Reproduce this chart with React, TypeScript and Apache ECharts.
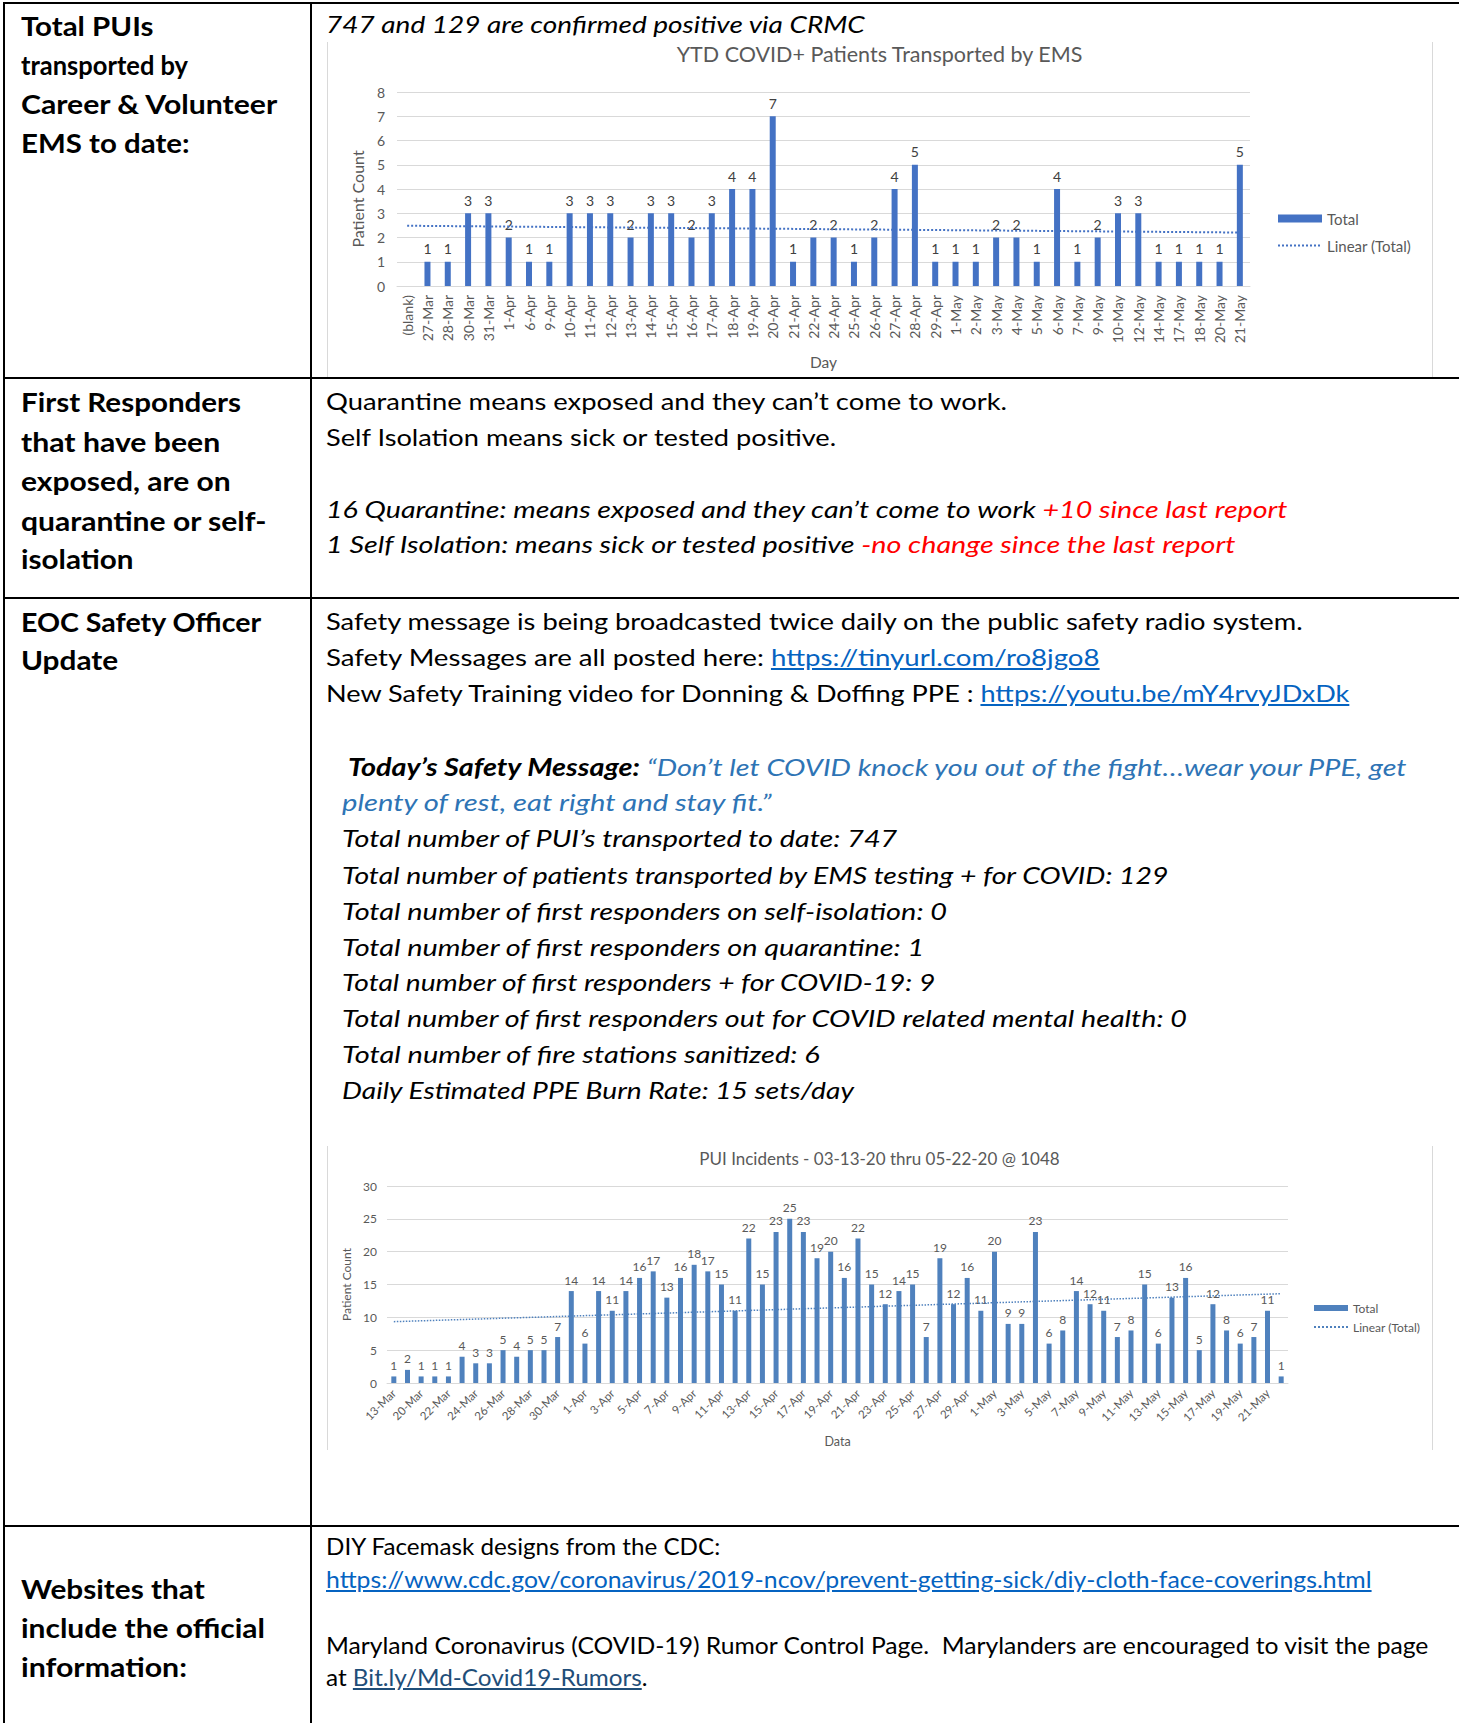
import React, { useEffect, useLayoutEffect, useRef } from 'react';
import * as echarts from 'echarts';

// ---------- Chart 1 data: YTD COVID+ Patients Transported by EMS ----------
const ytdDays = [
  '(blank)', '27-Mar', '28-Mar', '30-Mar', '31-Mar', '1-Apr', '6-Apr', '9-Apr', '10-Apr', '11-Apr',
  '12-Apr', '13-Apr', '14-Apr', '15-Apr', '16-Apr', '17-Apr', '18-Apr', '19-Apr', '20-Apr', '21-Apr',
  '22-Apr', '24-Apr', '25-Apr', '26-Apr', '27-Apr', '28-Apr', '29-Apr', '1-May', '2-May', '3-May',
  '4-May', '5-May', '6-May', '7-May', '9-May', '10-May', '12-May', '14-May', '17-May', '18-May',
  '20-May', '21-May',
];
const ytdTotals: (number | null)[] = [
  null, 1, 1, 3, 3, 2, 1, 1, 3, 3,
  3, 2, 3, 3, 2, 3, 4, 4, 7, 1,
  2, 2, 1, 2, 4, 5, 1, 1, 1, 2,
  2, 1, 4, 1, 2, 3, 3, 1, 1, 1,
  1, 5,
];
const ytdTicks = [0, 1, 2, 3, 4, 5, 6, 7, 8];

// ---------- Chart 2 data: PUI Incidents ----------
const puiDates = [
  '13-Mar', '18-Mar', '20-Mar', '21-Mar', '22-Mar', '23-Mar', '24-Mar', '25-Mar', '26-Mar', '27-Mar',
  '28-Mar', '29-Mar', '30-Mar', '31-Mar', '1-Apr', '2-Apr', '3-Apr', '4-Apr', '5-Apr', '6-Apr',
  '7-Apr', '8-Apr', '9-Apr', '10-Apr', '11-Apr', '12-Apr', '13-Apr', '14-Apr', '15-Apr', '16-Apr',
  '17-Apr', '18-Apr', '19-Apr', '20-Apr', '21-Apr', '22-Apr', '23-Apr', '24-Apr', '25-Apr', '26-Apr',
  '27-Apr', '28-Apr', '29-Apr', '30-Apr', '1-May', '2-May', '3-May', '4-May', '5-May', '6-May',
  '7-May', '8-May', '9-May', '10-May', '11-May', '12-May', '13-May', '14-May', '15-May', '16-May',
  '17-May', '18-May', '19-May', '20-May', '21-May', '22-May',
];
const puiCounts = [
  1, 2, 1, 1, 1, 4, 3, 3, 5, 4,
  5, 5, 7, 14, 6, 14, 11, 14, 16, 17,
  13, 16, 18, 17, 15, 11, 22, 15, 23, 25,
  23, 19, 20, 16, 22, 15, 12, 14, 15, 7,
  19, 12, 16, 11, 20, 9, 9, 23, 6, 8,
  14, 12, 11, 7, 8, 15, 6, 13, 16, 5,
  12, 8, 6, 7, 11, 1,
];
const puiTicks = [0, 5, 10, 15, 20, 25, 30];

// least-squares linear trend (as Excel's "Linear (Total)")
function linearTrend(values: (number | null)[]) {
  let n = 0, sx = 0, sy = 0, sxx = 0, sxy = 0;
  values.forEach((v, i) => {
    if (v == null) return;
    n++; sx += i; sy += v; sxx += i * i; sxy += i * v;
  });
  const b = (n * sxy - sx * sy) / (n * sxx - sx * sx);
  const a = (sy - b * sx) / n;
  return values.map((_, i) => +(a + b * i).toFixed(4));
}

const FONT = 'Lato, "Open Sans", sans-serif';
const GRAY = '#595959';
const GRID = '#d9d9d9';

function Chart({ left, top, width, height, option }: any) {
  const ref = useRef<HTMLDivElement>(null);
  useEffect(() => {
    if (!ref.current) return;
    const c = echarts.init(ref.current, undefined, { renderer: 'svg' });
    c.setOption(option);
    return () => c.dispose();
  }, []);
  return (
    <div
      ref={ref}
      style={{ position: 'absolute', left, top, width, height }}
    />
  );
}

function Line({ x, y, w, size = 24, lh = 32, bold = false, italic = false, color = '#000', children }: any) {
  const ref = useRef<HTMLDivElement>(null);
  useLayoutEffect(() => {
    const fit = () => {
      const el = ref.current;
      if (!el) return;
      el.style.transform = 'none';
      const actual = el.offsetWidth;
      if (actual > 0 && w) el.style.transform = `scaleX(${w / actual})`;
    };
    fit();
    if ((document as any).fonts && (document as any).fonts.ready) {
      (document as any).fonts.ready.then(fit);
    }
  }, []);
  return (
    <div
      ref={ref}
      style={{
        position: 'absolute',
        left: x,
        top: y - lh / 2,
        whiteSpace: 'pre',
        fontFamily: FONT,
        fontSize: size,
        lineHeight: lh + 'px',
        fontWeight: bold ? 700 : 400,
        fontStyle: italic ? 'italic' : 'normal',
        color,
        transformOrigin: '0 50%',
      }}
    >
      {children}
    </div>
  );
}

const RED = '#ff0000';
const LINK = '#0563c1';
const QUOTE = '#2e74b5';

const linkStyle = { color: LINK, textDecoration: 'underline' };

export default function App() {
  const trend1 = linearTrend(ytdTotals);
  const trend2 = linearTrend(puiCounts);

  const option1: any = {
    animation: false,
    textStyle: { fontFamily: FONT },
    title: {
      text: 'YTD COVID+ Patients Transported by EMS',
      left: 'center',
      top: 1,
      padding: 0,
      textStyle: { fontSize: 21.5, fontWeight: 'normal', color: GRAY, fontFamily: FONT },
    },
    grid: { left: 71, right: 183, top: 50, bottom: 91, containLabel: false, outerBoundsMode: 'none' },
    legend: {
      orient: 'vertical',
      left: 946,
      top: 164,
      itemWidth: 44,
      itemHeight: 8,
      itemGap: 12,
      textStyle: { fontSize: 15, color: GRAY, fontFamily: FONT },
      data: [
        { name: 'Total', icon: 'rect' },
        { name: 'Linear (Total)', itemStyle: { opacity: 0 } },
      ],
    },
    xAxis: {
      type: 'category',
      data: ytdDays,
      axisTick: { show: false },
      axisLine: { lineStyle: { color: GRID } },
      axisLabel: { rotate: 90, interval: 0, fontSize: 14, color: GRAY, margin: 9 },
      name: 'Day',
      nameLocation: 'middle',
      nameGap: 68,
      nameTextStyle: { fontSize: 15.5, color: GRAY },
    },
    yAxis: {
      type: 'value',
      min: ytdTicks[0],
      max: ytdTicks[ytdTicks.length - 1],
      interval: 1,
      axisLabel: { fontSize: 14, color: GRAY, margin: 12 },
      axisLine: { show: false },
      splitLine: { lineStyle: { color: GRID } },
      name: 'Patient Count',
      nameLocation: 'middle',
      nameGap: 32,
      nameRotate: 90,
      nameTextStyle: { fontSize: 16, color: GRAY, padding: [0, 20, 0, 0] },
    },
    series: [
      {
        name: 'Total',
        type: 'bar',
        data: ytdTotals,
        barWidth: 6,
        itemStyle: { color: '#4472c4' },
        label: { show: true, position: 'top', distance: 6, fontSize: 14, color: '#404040' },
      },
      {
        name: 'Linear (Total)',
        type: 'line',
        data: trend1,
        symbol: 'none',
        itemStyle: { color: '#4472c4' },
        lineStyle: { type: 'dotted', width: 2, color: '#4472c4' },
        z: 3,
      },
    ],
  };

  const option2: any = {
    animation: false,
    textStyle: { fontFamily: FONT },
    title: {
      text: 'PUI Incidents - 03-13-20 thru 05-22-20 @ 1048',
      left: 'center',
      top: 2,
      textStyle: { fontSize: 17, fontWeight: 'normal', color: GRAY, fontFamily: FONT },
    },
    grid: { left: 61, right: 145, top: 43, bottom: 67, containLabel: false, outerBoundsMode: 'none' },
    legend: {
      orient: 'vertical',
      left: 982,
      top: 154,
      itemWidth: 34,
      itemHeight: 6,
      itemGap: 7,
      textStyle: { fontSize: 12, color: GRAY, fontFamily: FONT },
      data: [
        { name: 'Total', icon: 'rect' },
        { name: 'Linear (Total)', itemStyle: { opacity: 0 } },
      ],
    },
    xAxis: {
      type: 'category',
      data: puiDates,
      axisTick: { show: false },
      axisLine: { lineStyle: { color: GRID } },
      axisLabel: { rotate: 45, interval: 1, fontSize: 11.5, color: GRAY, margin: 8 },
      name: 'Data',
      nameLocation: 'middle',
      nameGap: 52,
      nameTextStyle: { fontSize: 12.5, color: GRAY },
    },
    yAxis: {
      type: 'value',
      min: puiTicks[0],
      max: puiTicks[puiTicks.length - 1],
      interval: 5,
      axisLabel: { fontSize: 12, color: GRAY, margin: 10 },
      axisLine: { show: false },
      splitLine: { lineStyle: { color: GRID } },
      name: 'Patient Count',
      nameLocation: 'middle',
      nameGap: 26,
      nameRotate: 90,
      nameTextStyle: { fontSize: 12, color: GRAY },
    },
    series: [
      {
        name: 'Total',
        type: 'bar',
        data: puiCounts,
        barWidth: 5,
        itemStyle: { color: '#4f81bd' },
        label: { show: true, position: 'top', distance: 5, fontSize: 12, color: GRAY },
      },
      {
        name: 'Linear (Total)',
        type: 'line',
        data: trend2,
        symbol: 'none',
        itemStyle: { color: '#4f81bd' },
        lineStyle: { type: 'dotted', width: 1.5, color: '#4f81bd' },
        z: 3,
      },
    ],
  };

  const hLine = (y: number) => (
    <div style={{ position: 'absolute', left: 3, top: y - 1, width: 1456, height: 2, background: '#000' }} />
  );
  const vLine = (x: number) => (
    <div style={{ position: 'absolute', left: x - 1, top: 2, width: 2, height: 1721, background: '#000' }} />
  );
  const frame = (x: number, y1: number, y2: number) => (
    <div style={{ position: 'absolute', left: x, top: y1, width: 1, height: y2 - y1, background: GRID }} />
  );

  const L = 21;
  const R = 326;
  const I = 342;
  const B = 27;

  return (
    <div style={{ position: 'absolute', left: 0, top: 0, width: 1459, height: 1723, background: '#fff', overflow: 'hidden' }}>
      {/* borders */}
      {hLine(3)}
      {hLine(378)}
      {hLine(598)}
      {hLine(1526)}
      {vLine(4)}
      {vLine(311)}

      {/* Row 1 */}
      <Line x={L} y={26} w={133} size={B} lh={38} bold>Total PUIs</Line>
      <Line x={L} y={65} w={167} size={B} lh={38} bold>transported by</Line>
      <Line x={L} y={104} w={256} size={B} lh={38} bold>Career &amp; Volunteer</Line>
      <Line x={L} y={143} w={169} size={B} lh={38} bold>EMS to date:</Line>
      <Line x={R} y={24} w={539} italic>747 and 129 are confirmed positive via CRMC</Line>

      {frame(327, 42, 377)}
      {frame(1432, 42, 377)}
      <Chart left={326} top={42} width={1107} height={335} option={option1} />

      {/* Row 2 */}
      <Line x={L} y={402} w={220} size={B} lh={38} bold>First Responders</Line>
      <Line x={L} y={442} w={199} size={B} lh={38} bold>that have been</Line>
      <Line x={L} y={481} w={210} size={B} lh={38} bold>exposed, are on</Line>
      <Line x={L} y={521} w={246} size={B} lh={38} bold>quarantine or self-</Line>
      <Line x={L} y={559} w={113} size={B} lh={38} bold>isolation</Line>

      <Line x={R} y={401} w={681}>Quarantine means exposed and they can’t come to work.</Line>
      <Line x={R} y={437} w={510}>Self Isolation means sick or tested positive.</Line>
      <Line x={R} y={509} w={962} italic>
        16 Quarantine: means exposed and they can’t come to work <span style={{ color: RED }}>+10 since last report</span>
      </Line>
      <Line x={R} y={544} w={909} italic>
        1 Self Isolation: means sick or tested positive <span style={{ color: RED }}>-no change since the last report</span>
      </Line>

      {/* Row 3 */}
      <Line x={L} y={622} w={240} size={B} lh={38} bold>EOC Safety Officer</Line>
      <Line x={L} y={660} w={97} size={B} lh={38} bold>Update</Line>

      <Line x={R} y={621} w={977}>Safety message is being broadcasted twice daily on the public safety radio system.</Line>
      <Line x={R} y={657} w={774}>
        Safety Messages are all posted here: <span style={linkStyle}>https://tinyurl.com/ro8jgo8</span>
      </Line>
      <Line x={R} y={693} w={1023}>
        New Safety Training video for Donning &amp; Doffing PPE : <span style={linkStyle}>https://youtu.be/mY4rvyJDxDk</span>
      </Line>
      <Line x={348} y={767} w={1059} italic>
        <span style={{ fontWeight: 700 }}>Today’s Safety Message:</span>
        <span style={{ color: QUOTE }}> “Don’t let COVID knock you out of the fight…wear your PPE, get</span>
      </Line>
      <Line x={I} y={802} w={430} italic color={QUOTE}>plenty of rest, eat right and stay fit.”</Line>
      <Line x={I} y={838} w={555} italic>Total number of PUI’s transported to date: 747</Line>
      <Line x={I} y={875} w={827} italic>Total number of patients transported by EMS testing + for COVID: 129</Line>
      <Line x={I} y={911} w={605} italic>Total number of first responders on self-isolation: 0</Line>
      <Line x={I} y={947} w={582} italic>Total number of first responders on quarantine: 1</Line>
      <Line x={I} y={982} w={593} italic>Total number of first responders + for COVID-19: 9</Line>
      <Line x={I} y={1018} w={845} italic>Total number of first responders out for COVID related mental health: 0</Line>
      <Line x={I} y={1054} w={478} italic>Total number of fire stations sanitized: 6</Line>
      <Line x={I} y={1090} w={512} italic>Daily Estimated PPE Burn Rate: 15 sets/day</Line>

      {frame(327, 1146, 1450)}
      {frame(1432, 1146, 1450)}
      <Chart left={326} top={1143} width={1107} height={307} option={option2} />

      {/* Row 4 */}
      <Line x={L} y={1589} w={184} size={B} lh={38} bold>Websites that</Line>
      <Line x={L} y={1628} w={244} size={B} lh={38} bold>include the official</Line>
      <Line x={L} y={1667} w={166} size={B} lh={38} bold>information:</Line>

      <Line x={R} y={1546} w={394}>DIY Facemask designs from the CDC:</Line>
      <Line x={R} y={1579} w={1046}>
        <span style={linkStyle}>https://www.cdc.gov/coronavirus/2019-ncov/prevent-getting-sick/diy-cloth-face-coverings.html</span>
      </Line>
      <Line x={R} y={1645} w={1102}>Maryland Coronavirus (COVID-19) Rumor Control Page.  Marylanders are encouraged to visit the page</Line>
      <Line x={R} y={1677} w={322}>
        at <span style={{ color: '#1f4e79', textDecoration: 'underline' }}>Bit.ly/Md-Covid19-Rumors</span>.
      </Line>
    </div>
  );
}
